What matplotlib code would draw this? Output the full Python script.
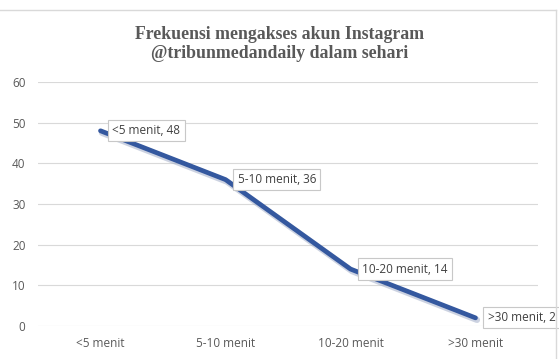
import matplotlib.pyplot as plt
from matplotlib.lines import Line2D

categories = ['<5 menit', '5-10 menit', '10-20 menit', '>30 menit']
values = [48, 36, 14, 2]
yticks = [0, 10, 20, 30, 40, 50, 60]

title = 'Frekuensi mengakses akun Instagram\n@tribunmedandaily dalam sehari'

plt.rcParams['font.family'] = ['Open Sans', 'DejaVu Sans']

fig = plt.figure(figsize=(5.59, 3.59), dpi=100)
ax = fig.add_axes([38/559, 33/359, 500/559, 244/359])

xs = list(range(len(categories)))
# soft shadow under the line, Excel style
ax.plot([x + 0.012 for x in xs], [v - 0.5 for v in values], color='#9aa7c4',
        lw=4.5, alpha=0.5, solid_capstyle='round', zorder=2)
ax.plot(xs, values, color='#34589f', lw=3.4, solid_capstyle='round', zorder=3)

for x, v, c in zip(xs, values, categories):
    ax.annotate('%s, %d' % (c, v), xy=(x, v), xytext=(12, 0),
                textcoords='offset pixels', ha='left', va='center',
                fontsize=8.5, color='#404040', zorder=5,
                bbox=dict(boxstyle='square,pad=0.35', fc='white',
                          ec='#c8c8c8', lw=0.8))

ax.set_xlim(-0.5, 3.5)
ax.set_ylim(0, 60)
ax.set_yticks(yticks)
ax.set_xticks(xs)
ax.set_xticklabels(categories)
ax.grid(axis='y', color='#d9d9d9', lw=0.8)
ax.set_axisbelow(True)
for s in ax.spines.values():
    s.set_visible(False)
ax.tick_params(axis='both', length=0, labelsize=8.5, labelcolor='#595959')
ax.tick_params(axis='y', pad=9)
ax.tick_params(axis='x', pad=8)

fig.text(0.5, 1 - 44/359, title, ha='center', va='center', fontsize=12.8,
         fontweight='bold', color='#595959', family='Liberation Serif',
         linespacing=1.15)

# chart border (only top and right visible in the crop)
fig.add_artist(Line2D([0, 556/559], [1 - 10/359, 1 - 10/359],
                      transform=fig.transFigure, color='#d9d9d9', lw=1))
fig.add_artist(Line2D([556/559, 556/559], [0, 1 - 10/359],
                      transform=fig.transFigure, color='#d9d9d9', lw=1))

plt.savefig('out.png', dpi=100)
